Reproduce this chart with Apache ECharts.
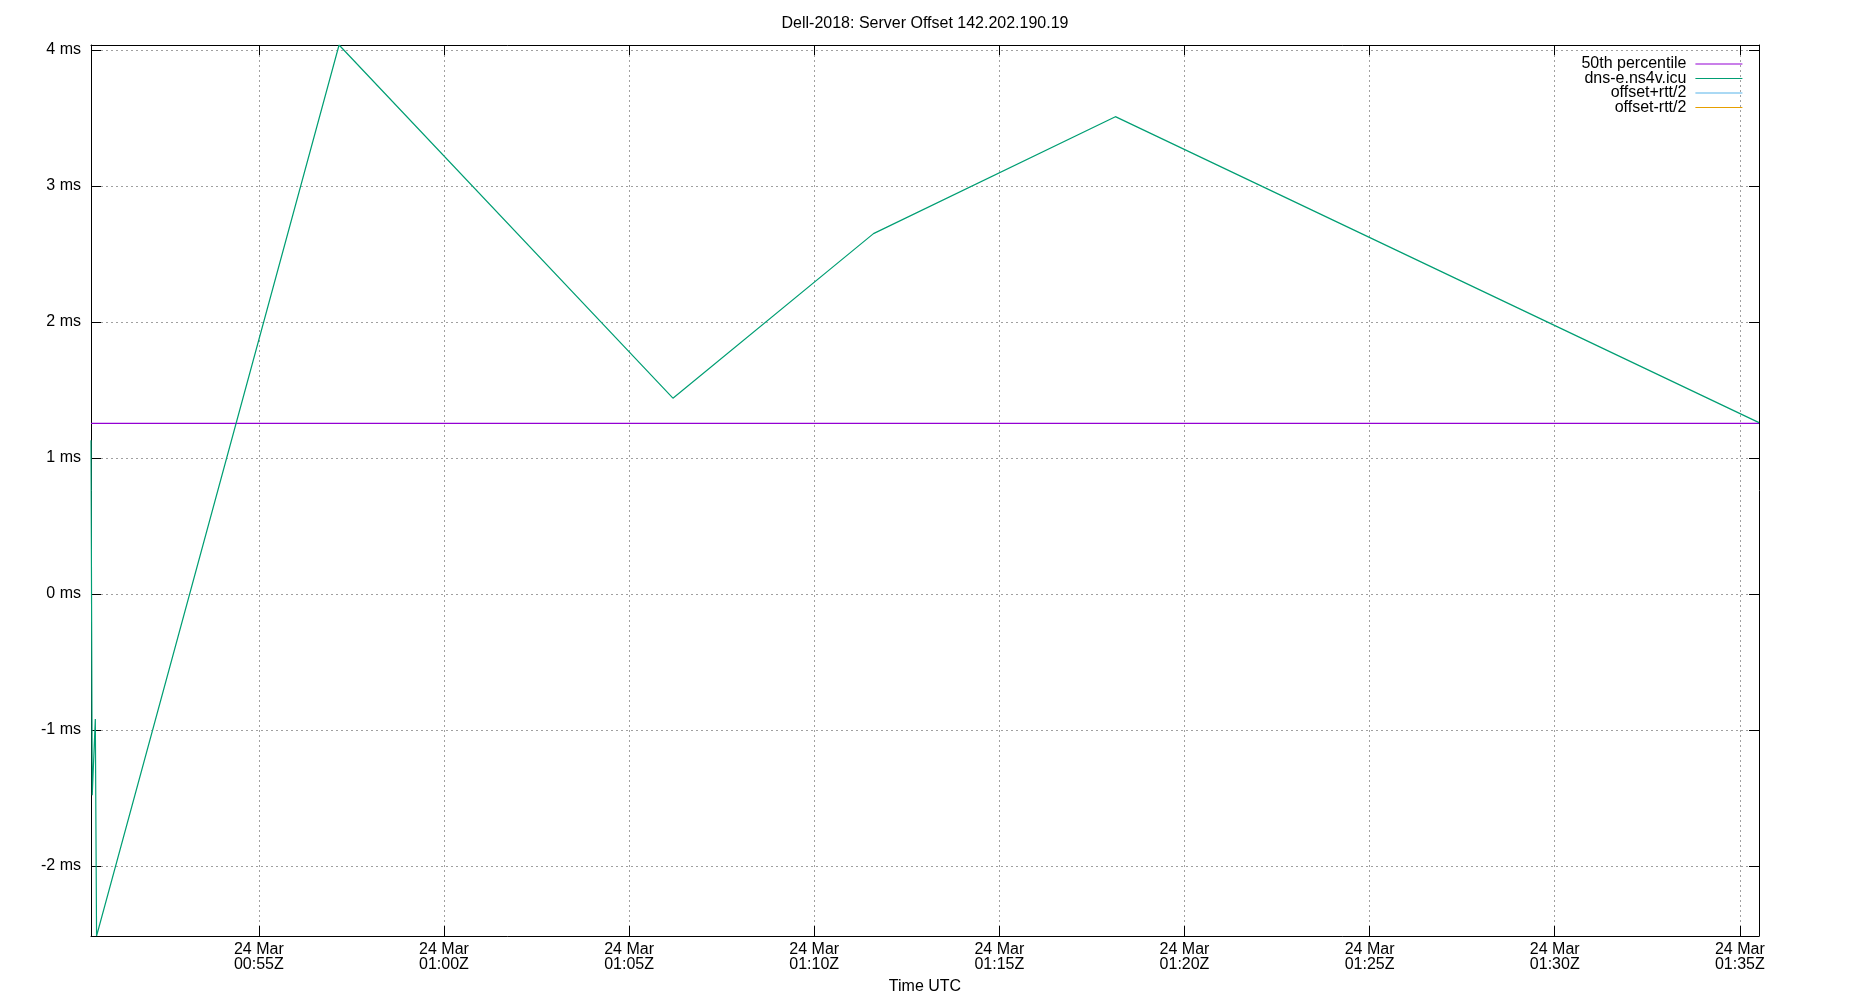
<!DOCTYPE html>
<html>
<head>
<meta charset="utf-8">
<title>Dell-2018: Server Offset 142.202.190.19</title>
<script src="https://cdn.jsdelivr.net/npm/echarts@6/dist/echarts.min.js"></script>
<style>
html,body{margin:0;padding:0;background:#fff;}
#chart-panel{width:1850px;height:1000px;}
</style>
</head>
<body>
<div id="chart-panel"></div>
<script>
// all times are 24 Mar, UTC
var offsetTimes = ['00:50:28','00:50:30','00:50:35','00:50:37','00:57:10','01:06:11','01:11:36','01:18:08','01:35:31'];
var offsetValues = [1.13, -1.48, -0.92, -2.515, 4.037, 1.44, 2.65, 3.51, 1.26];
var percentile50 = 1.255;
var xTickTimes = ['00:55:00','01:00:00','01:05:00','01:10:00','01:15:00','01:20:00','01:25:00','01:30:00','01:35:00'];
var yTicks = [-2, -1, 0, 1, 2, 3, 4];
var yMin = -2.515, yMax = 4.037;

var FONT = 'Liberation Sans';

function t(s){
    var p = s.split(':');
    return Date.UTC(2024, 2, 24, +p[0], +p[1], +p[2]);
}
function pad(n){ return (n < 10 ? '0' : '') + n; }

var xs = offsetTimes.map(t);
var xMin = xs[0], xMax = xs[xs.length - 1];
var xTicks = xTickTimes.map(t);

var offsetData = xs.map(function(x, i){ return [x, offsetValues[i]]; });
var pctData = [[xMin, percentile50], [xMax, percentile50]];

var gridLine = {show:true, lineStyle:{color:'#a0a0a0', type:[2,3], width:1}};

function xAxisOpt(pos, main){
    return {
        type:'value', position:pos, min:xMin, max:xMax,
        axisLine:{show:true, onZero:false, lineStyle:{color:'#000', width:1}},
        axisTick:{show:true, inside:true, length:10, customValues:xTicks, lineStyle:{color:'#000'}},
        axisLabel:{show:main, customValues:xTicks, color:'#000', fontFamily:FONT, fontSize:16, lineHeight:15, margin:6,
            formatter:function(v){
                var d = new Date(v);
                return '24 Mar\n' + pad(d.getUTCHours()) + ':' + pad(d.getUTCMinutes()) + 'Z';
            }},
        splitLine: main ? gridLine : {show:false},
        name: main ? 'Time UTC' : '', nameLocation:'middle', nameGap:43,
        nameTextStyle:{color:'#000', fontFamily:FONT, fontSize:16}
    };
}
function yAxisOpt(pos, main){
    return {
        type:'value', position:pos, min:yMin, max:yMax,
        axisLine:{show:true, onZero:false, lineStyle:{color:'#000', width:1}},
        axisTick:{show:true, inside:true, length:10, customValues:yTicks, lineStyle:{color:'#000'}},
        axisLabel:{show:main, customValues:yTicks, color:'#000', fontFamily:FONT, fontSize:16, margin:10,
            formatter:function(v){ return v + ' ms'; }},
        splitLine: main ? gridLine : {show:false}
    };
}

var option = {
    backgroundColor:'#fff',
    animation:false,
    title:{
        text:'Dell-2018: Server Offset 142.202.190.19',
        left:'center', top:11,
        textStyle:{color:'#000', fontFamily:FONT, fontSize:16, fontWeight:'normal'}
    },
    legend:{
        orient:'vertical', align:'right', right:102, top:51,
        itemWidth:47, itemHeight:14, itemGap:-1.5,
        itemStyle:{opacity:0},
        lineStyle:{width:1.2},
        textStyle:{color:'#000', fontFamily:FONT, fontSize:16, lineHeight:14, padding:[0,4,0,0]},
        data:['50th percentile','dns-e.ns4v.icu','offset+rtt/2','offset-rtt/2']
    },
    grid:{left:91, right:91, top:45, bottom:64, containLabel:false},
    xAxis:[xAxisOpt('bottom', true), xAxisOpt('top', false)],
    yAxis:[yAxisOpt('left', true), yAxisOpt('right', false)],
    series:[
        {name:'50th percentile', type:'line', symbol:'none', data:pctData,
         lineStyle:{color:'#9400d3', width:1.2}, itemStyle:{color:'#9400d3'}},
        {name:'dns-e.ns4v.icu', type:'line', symbol:'none', data:offsetData,
         lineStyle:{color:'#009e73', width:1.2}, itemStyle:{color:'#009e73'}},
        {name:'offset+rtt/2', type:'line', symbol:'none', data:[],
         lineStyle:{color:'#56b4e9', width:1.2}, itemStyle:{color:'#56b4e9'}},
        {name:'offset-rtt/2', type:'line', symbol:'none', data:[],
         lineStyle:{color:'#e69f00', width:1.2}, itemStyle:{color:'#e69f00'}}
    ]
};

var chart = echarts.init(document.getElementById('chart-panel'));
chart.setOption(option);
</script>
</body>
</html>
